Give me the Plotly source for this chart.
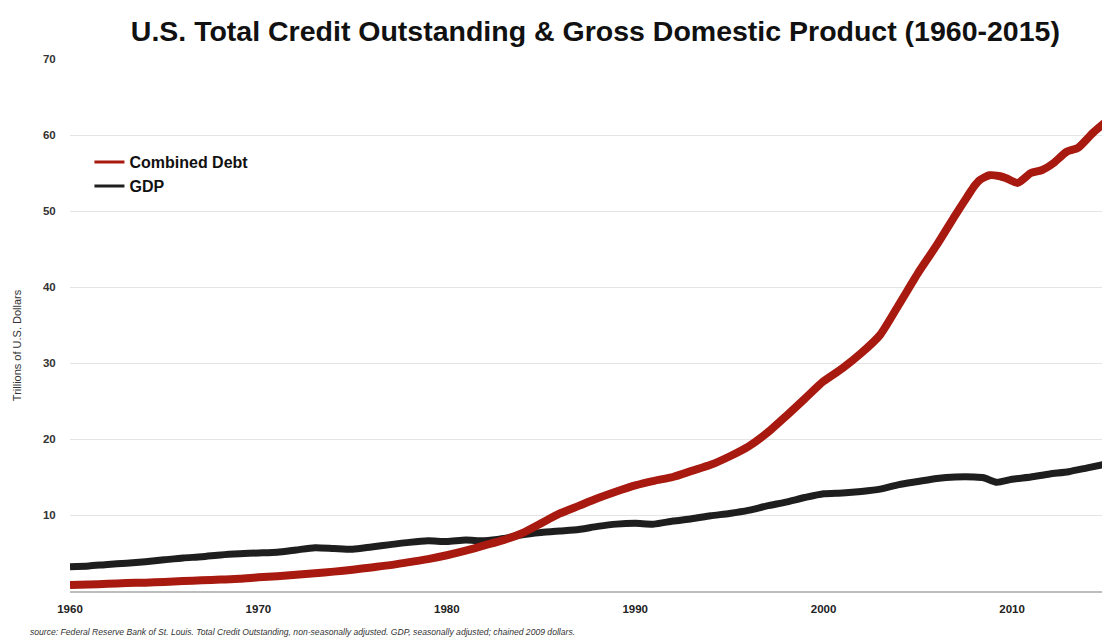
import plotly.graph_objects as go

# Data (trillions of U.S. dollars)
debt_years = [1960, 1961, 1962, 1963, 1964, 1965, 1966, 1967, 1968, 1969,
              1970, 1971, 1972, 1973, 1974, 1975, 1976, 1977, 1978, 1979,
              1980, 1981, 1982, 1983, 1984, 1985, 1986, 1987, 1988, 1989,
              1990, 1991, 1992, 1993, 1994, 1995, 1996, 1997, 1998, 1999,
              2000, 2001, 2002, 2003, 2004, 2005, 2006, 2007, 2007.6, 2008,
              2008.3, 2008.8, 2009.3, 2009.7, 2010.3, 2011, 2011.6, 2012.2,
              2012.9, 2013.5, 2014.3, 2015.2]
debt_values = [0.8, 0.85, 0.95, 1.05, 1.1, 1.2, 1.3, 1.4, 1.5, 1.6,
               1.8, 1.95, 2.15, 2.35, 2.55, 2.8, 3.1, 3.4, 3.8, 4.2,
               4.7, 5.3, 6.0, 6.7, 7.6, 8.9, 10.2, 11.2, 12.2, 13.1,
               13.9, 14.5, 15.0, 15.8, 16.6, 17.7, 19.0, 20.8, 23.0, 25.3,
               27.6, 29.3, 31.3, 33.7, 37.7, 41.8, 45.5, 49.5, 51.8, 53.3,
               54.1, 54.7, 54.6, 54.3, 53.7, 55.0, 55.4, 56.3,
               57.8, 58.3, 60.3, 62.2]

gdp_years = [1960, 1961, 1962, 1963, 1964, 1965, 1966, 1967, 1968, 1969,
             1970, 1971, 1972, 1973, 1974, 1975, 1976, 1977, 1978, 1979,
             1980, 1981, 1982, 1983, 1984, 1985, 1986, 1987, 1988, 1989,
             1990, 1991, 1992, 1993, 1994, 1995, 1996, 1997, 1998, 1999,
             2000, 2001, 2002, 2003, 2004, 2005, 2006, 2007, 2008, 2008.5,
             2009.2, 2010, 2011, 2012, 2013, 2014, 2015.2]
gdp_values = [3.2, 3.3, 3.5, 3.65, 3.85, 4.1, 4.35, 4.5, 4.75, 4.9,
              5.0, 5.1, 5.4, 5.7, 5.6, 5.5, 5.8, 6.1, 6.4, 6.6,
              6.5, 6.7, 6.6, 6.9, 7.4, 7.7, 7.9, 8.1, 8.5, 8.8,
              8.9, 8.8, 9.2, 9.5, 9.9, 10.2, 10.6, 11.2, 11.7, 12.3,
              12.8, 12.9, 13.1, 13.4, 14.0, 14.4, 14.8, 15.0, 15.0, 14.9,
              14.3, 14.7, 15.0, 15.4, 15.7, 16.2, 16.8]

x_ticks = [1960, 1970, 1980, 1990, 2000, 2010]
y_ticks = [10, 20, 30, 40, 50, 60, 70]

RED = "#a8190f"
BLACK = "#1e1e1e"

fig = go.Figure()
fig.add_trace(go.Scatter(x=gdp_years, y=gdp_values, mode="lines", name="GDP",
                         line=dict(color=BLACK, width=7, shape="spline", smoothing=0.6),
                         showlegend=False))
fig.add_trace(go.Scatter(x=debt_years, y=debt_values, mode="lines", name="Combined Debt",
                         line=dict(color=RED, width=8, shape="spline", smoothing=0.6),
                         showlegend=False))
# legend entries with thinner sample lines
fig.add_trace(go.Scatter(x=[None], y=[None], mode="lines", name="<b>Combined Debt</b>",
                         line=dict(color=RED, width=3)))
fig.add_trace(go.Scatter(x=[None], y=[None], mode="lines", name="<b>GDP</b>",
                         line=dict(color=BLACK, width=3)))

# figure is drawn inside the page body's default 8px margin
fig.update_layout(
    width=1102, height=633,
    margin=dict(l=62, r=0, t=51, b=50, autoexpand=False),
    paper_bgcolor="white", plot_bgcolor="white",
    title=dict(text="<b>U.S. Total Credit Outstanding & Gross Domestic Product (1960-2015)</b>",
               x=0.533, xanchor="center", y=0.963, yanchor="middle",
               font=dict(family="Liberation Sans, Arial, sans-serif",
                         size=28.5, color="#111111")),
    legend=dict(x=0.0187, y=0.838, xanchor="left", yanchor="top",
                bgcolor="rgba(0,0,0,0)", tracegroupgap=0,
                font=dict(family="Liberation Sans, Arial, sans-serif", size=16, color="#111111"),
                itemwidth=30),
    font=dict(family="Liberation Sans, Arial, sans-serif"),
    xaxis=dict(range=[1960, 2015.2], tickvals=x_ticks, ticktext=[f"<b>{t}</b>" for t in x_ticks],
               showgrid=False, zeroline=False, showline=True, linecolor="#bdbdbd", linewidth=2,
               ticks="outside", ticklen=6, tickcolor="rgba(0,0,0,0)", automargin=False,
               tickfont=dict(size=11.5, color="#222222")),
    yaxis=dict(range=[0, 70], tickvals=y_ticks, ticktext=[f"<b>{t}</b>" for t in y_ticks],
               showgrid=True, gridcolor="#e4e4e4", gridwidth=1, zeroline=False,
               ticks="outside", ticklen=11, tickcolor="rgba(0,0,0,0)", automargin=False,
               tickfont=dict(size=11.5, color="#333333")),
)

fig.add_annotation(
    text="Trillions of U.S. Dollars", textangle=-90,
    xref="paper", yref="paper", x=-0.051, y=0.462, xanchor="center", yanchor="middle",
    showarrow=False, font=dict(size=11, color="#333333"))

fig.add_annotation(
    text="<i>source: Federal Reserve Bank of St. Louis. Total Credit Outstanding, non-seasonally adjusted. GDP, seasonally adjusted; chained 2009 dollars.</i>",
    xref="paper", yref="paper", x=-0.0404, y=-0.077, xanchor="left", yanchor="middle",
    showarrow=False, font=dict(size=8.6, color="#333333", family="Liberation Sans, sans-serif"))

fig.write_html("out.html")
